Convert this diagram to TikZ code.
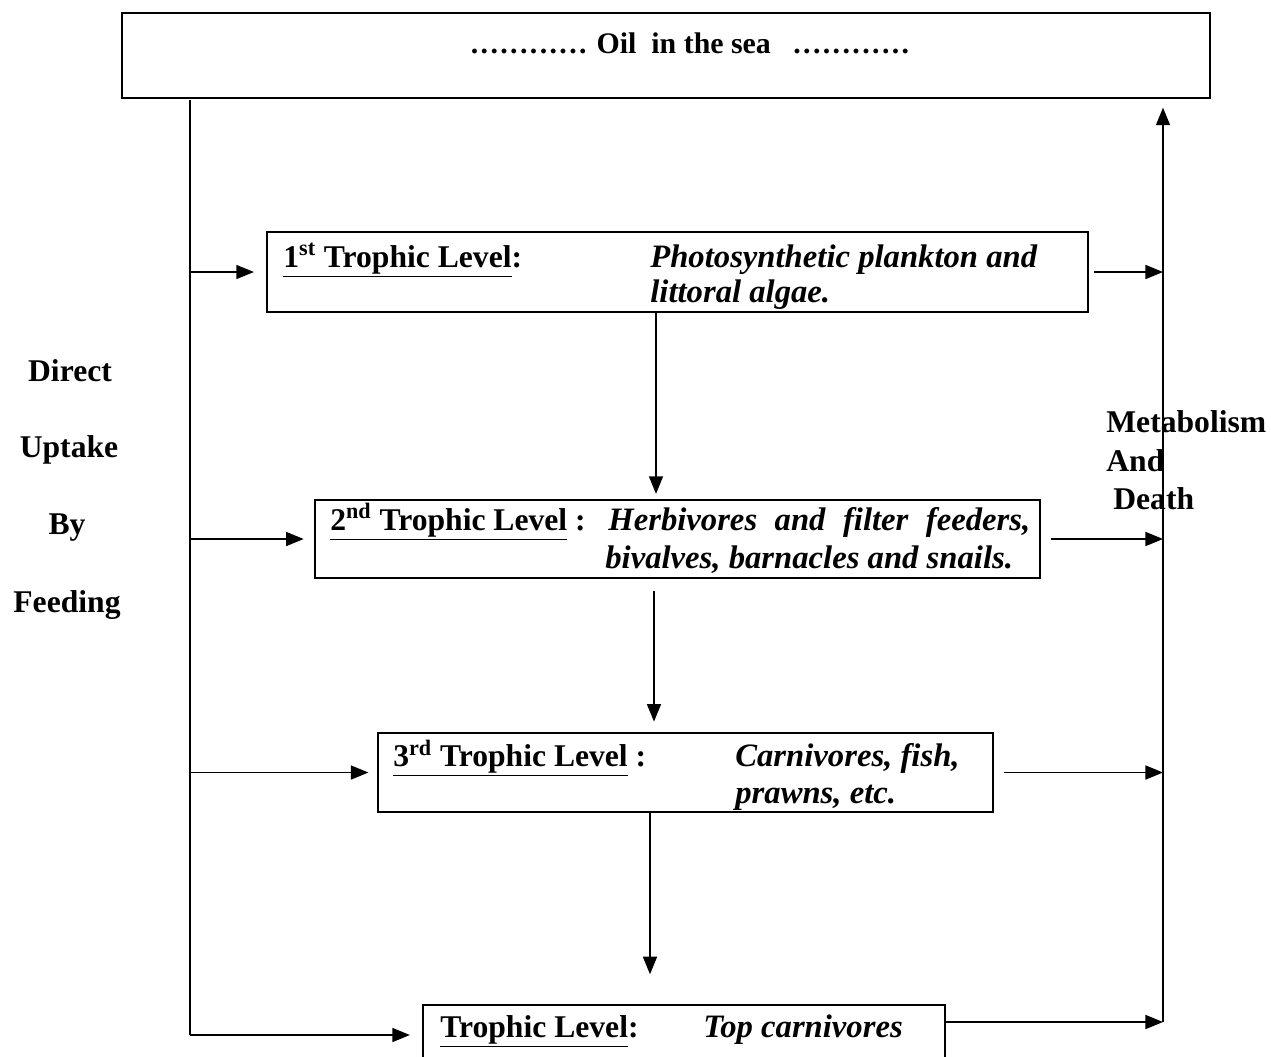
\documentclass[tikz,border=0pt]{standalone}
\usepackage{fontspec}
\setmainfont{Liberation Serif}
\usetikzlibrary{arrows.meta,positioning}

\newcommand{\dotrun}[1]{{\addfontfeature{LetterSpace=8}#1}}

\begin{document}
\begin{tikzpicture}[
  x=0.02cm, y=-0.02cm,
  box/.style={draw, line width=1pt, inner sep=0pt},
  lbl/.style={anchor=base west, inner sep=0pt, font=\fontsize{18}{21}\selectfont\bfseries},
  desc/.style={anchor=base west, inner sep=0pt, font=\fontsize{18.6}{21}\selectfont\bfseries\itshape},
  side/.style={inner sep=0pt, font=\fontsize{18}{21}\selectfont\bfseries},
  spine/.style={line width=0.8pt},
  link/.style={line width=0.8pt, -{Triangle[length=10pt, width=8pt]}}
]
\useasboundingbox (0,0) rectangle (1271,1056);
\node[box, minimum width=21.76cm, minimum height=1.7cm] (sea) at (666,55.5) {};
\node[anchor=base, inner sep=0pt, font=\fontsize{17}{20}\selectfont\bfseries] (seatxt) at (690,53) {\dotrun{............} Oil\ \ in the sea \ \ \dotrun{............}};

\node[box, minimum width=16.42cm, minimum height=1.6cm] (b1) at (677.5,272) {};
\node[box, minimum width=14.5cm, minimum height=1.56cm] (b2) at (677.5,539) {};
\node[box, minimum width=12.3cm, minimum height=1.58cm] (b3) at (685.5,772.5) {};
\node[box, minimum width=10.44cm, minimum height=1.4cm] (b4) at (684,1040) {};

\node[lbl] (l1) at (283,267) {\underline{1\textsuperscript{st} Trophic Level}:};
\node[desc] (d1a) at (650,267) {Photosynthetic plankton and};
\node[desc] (d1b) at (650,302) {littoral algae.};
\node[lbl] (l2) at (330,530) {\underline{2\textsuperscript{nd} Trophic Level}\ :};
\node[desc] (d2a) at (608,530) {\makebox[8.44cm][s]{Herbivores and filter feeders,}};
\node[desc] (d2b) at (605,568) {bivalves, barnacles and snails.};
\node[lbl] (l3) at (393,766) {\underline{3\textsuperscript{rd} Trophic Level}\ :};
\node[desc] (d3a) at (735,766) {Carnivores, fish,};
\node[desc] (d3b) at (735,803) {prawns, etc.};
\node[lbl] (l4) at (440,1037) {\underline{Trophic Level}:};
\node[desc] (d4) at (703,1037) {Top carnivores};

\node[side, anchor=base] (direct) at (70,381) {Direct};
\node[side, anchor=base] (uptake) at (69,457) {Uptake};
\node[side, anchor=base] (by) at (67,534) {By};
\node[side, anchor=base] (feeding) at (67,612) {Feeding};
\node[side, anchor=base west] (metab) at (1106,432) {Metabolism};
\node[side, anchor=base west] (and) at (1106,471) {And};
\node[side, anchor=base west] (death) at (1113,509) {Death};

\coordinate (lt) at (190,100);
\coordinate (lb) at (190,1035);
\coordinate (rb) at (1163,1022);

\draw[spine] (lt) -- (lb);
\draw[link, shorten >=7pt] (lt |- b1.west) -- (b1.west);
\draw[link, shorten >=6pt] (lt |- b2.west) -- (b2.west);
\draw[link, shorten >=5pt] (lt |- b3.west) -- (b3.west);
\draw[link, shorten >=7pt] (lb) -- (lb -| b4.west);

\draw[link, shorten >=5pt] (rb) -- (rb |- sea.south);
\draw[link, shorten <=3pt] (b1.east) -- (b1.east -| rb);
\draw[link, shorten <=6pt] (b2.east) -- (b2.east -| rb);
\draw[link, shorten <=6pt] (b3.east) -- (b3.east -| rb);
\draw[link] (rb -| b4.east) -- (rb);

\draw[link, shorten >=3pt] (b1.south -| 656,0) -- (b2.north -| 656,0);
\draw[link, shorten <=7pt, shorten >=6pt] (b2.south -| 654,0) -- (b3.north -| 654,0);
\draw[link, shorten >=17pt] (b3.south -| 650,0) -- (b4.north -| 650,0);
\end{tikzpicture}
\end{document}
